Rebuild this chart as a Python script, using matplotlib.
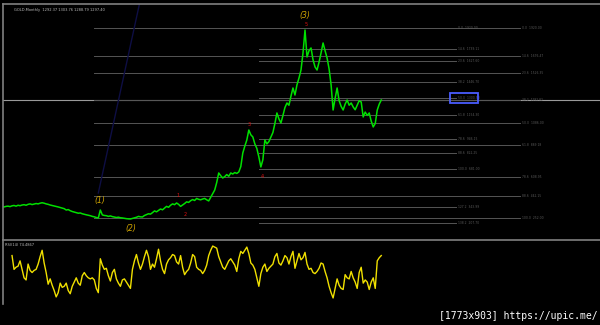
import numpy as np
import matplotlib
matplotlib.use('Agg')
import matplotlib.pyplot as plt
from matplotlib.patches import Rectangle


# monthly closes (one value per bar)
close = [
    345, 350, 352, 348, 355, 358, 352, 360, 356, 362,
    365, 360, 368, 372, 366, 370, 375, 372, 378, 382,
    378, 372, 368, 362, 358, 355, 350, 345, 340, 335,
    330, 318, 322, 312, 305, 300, 296, 290, 292, 285,
    280, 276, 272, 268, 262, 258, 252, 248, 318, 275,
    270, 268, 262, 266, 260, 256, 252, 255, 250, 248,
    245, 242, 240, 239, 244, 250, 254, 262, 258, 257,
    270, 278, 285, 282, 295, 310, 302, 315, 327, 320,
    335, 350, 342, 360, 372, 365, 380, 368, 350, 362,
    375, 390, 385, 400, 410, 402, 420, 412, 408, 415,
    420, 408, 398, 430, 460, 494, 560, 644, 620, 600,
    612, 630, 615, 644, 635, 648, 640, 653, 700, 820,
    880, 934, 1022, 980, 961, 900, 860, 785, 697, 760,
    934, 900, 920, 961, 1000, 1080, 1172, 1120, 1084, 1150,
    1220, 1260, 1240, 1320, 1392, 1330, 1420, 1480, 1550, 1700,
    1902, 1665, 1720, 1744, 1640, 1577, 1550, 1620, 1700, 1788,
    1720, 1656, 1560, 1420, 1198, 1300, 1392, 1280, 1230, 1198,
    1250, 1286, 1240, 1260, 1225, 1200, 1240, 1280, 1269, 1137,
    1180, 1150, 1172, 1100, 1049, 1080, 1198, 1250, 1286,
]

# RSI(14), starts at bar 4
rsi = [
    71, 58, 60, 61, 66, 58, 50, 48, 63, 57,
    55, 57, 58, 63, 70, 76, 64, 55, 44, 49,
    43, 38, 32, 36, 45, 41, 42, 45, 38, 35,
    42, 46, 50, 45, 43, 52, 55, 52, 50, 49,
    50, 48, 40, 36, 68, 62, 58, 59, 52, 47,
    55, 58, 49, 45, 42, 48, 49, 46, 43, 40,
    58, 66, 72, 64, 58, 63, 70, 76, 70, 58,
    63, 60, 68, 77, 66, 58, 54, 63, 67, 69,
    72, 71, 65, 63, 71, 60, 53, 56, 58, 64,
    72, 70, 60, 58, 57, 54, 57, 62, 71, 76,
    80, 79, 78, 70, 65, 60, 58, 62, 66, 68,
    65, 62, 56, 68, 75, 73, 76, 79, 73, 64,
    62, 58, 50, 42, 54, 60, 63, 56, 59, 61,
    63, 70, 73, 64, 62, 66, 71, 69, 63, 70,
    75, 59, 66, 73, 67, 69, 74, 63, 58, 59,
    55, 54, 56, 59, 64, 63, 56, 50, 42, 36,
    31, 40, 49, 43, 40, 39, 53, 50, 49, 56,
    50, 46, 40, 55, 60, 45, 48, 46, 39, 46,
    50, 40, 66, 69, 71,
]
rsi_start = 4

# fibonacci retracements
fib_levels_a = [0.0, 14.6, 23.6, 38.2, 50.0, 61.8, 78.6, 88.6, 100.0, 127.2, 138.2]
fib_a_high, fib_a_low = 1920.0, 681.0
fib_a_start, fib_a_end = 127, 225

fib_levels_b = [0.0, 14.6, 23.6, 38.2, 50.0, 61.8, 78.6, 88.6, 100.0]
fib_b_high, fib_b_low = 1920.0, 252.0
fib_b_start, fib_b_end = 45, 257

last_price = 1290.0

# faint trend line (two points), drawn from the first one upwards
trend_x = [47, 65]
trend_y = [468, 1929]

# wave counts: (text, bar, price)
waves_major = [('(1)', 48, 398), ('(2)', 63, 151), ('(3)', 150, 2034)]
waves_minor = [('1', 86.5, 450), ('2', 90.5, 283), ('3', 122, 1075),
               ('4', 128.5, 609), ('5', 150.5, 1955)]

header = 'GOLD,Monthly  1292.37 1303.76 1288.79 1297.40'
rsi_header = 'RSI(14) 74.4867'


bars = np.arange(len(close))
rsi_bars = np.arange(rsi_start, rsi_start + len(rsi))

BG = 'black'
GRID = '#808080'
FIB = '#555555'

fig = plt.figure(figsize=(6, 3.25), dpi=100, facecolor=BG)

ax = fig.add_axes([3 / 600, 86 / 325, 1.0, 235 / 325], facecolor=BG)
ax2 = fig.add_axes([3 / 600, 21 / 325, 1.0, 64 / 325], facecolor=BG)

for a in (ax, ax2):
    a.set_xticks([])
    a.set_yticks([])
    for s in ('right', 'bottom'):
        a.spines[s].set_visible(False)
    for s in ('left', 'top'):
        a.spines[s].set_color(GRID)
        a.spines[s].set_linewidth(1.2)
    a.set_xlim(-0.5, 298.5)

ymin, ymax = 63, 2131
ax.set_ylim(ymin, ymax)
ax2.set_ylim(25.3, 85.7)

# full width price line
ax.axhline(last_price, color='#9a9a9a', lw=0.8, zorder=1)

# fib set B (long one)
for lvl in fib_levels_b:
    p = fib_b_high - (fib_b_high - fib_b_low) * lvl / 100.0
    ax.plot([fib_b_start, fib_b_end], [p, p], color=FIB, lw=0.7, zorder=1)
    ax.text(fib_b_end + 1, p, '%.1f  %.2f' % (lvl, p), color='#5a5a5a',
            fontsize=2.2, ha='left', va='center')

# fib set A
for lvl in fib_levels_a:
    p = fib_a_high - (fib_a_high - fib_a_low) * lvl / 100.0
    ax.plot([fib_a_start, fib_a_end], [p, p], color=FIB, lw=0.7, zorder=1)
    ax.text(fib_a_end + 1, p, '%.1f  %.2f' % (lvl, p), color='#5a5a5a',
            fontsize=2.2, ha='left', va='center')

# highlight box round the 50% label
p50 = fib_a_high - (fib_a_high - fib_a_low) * 0.5
ax.add_patch(Rectangle((fib_a_end - 2.5, p50 - 40), 13.5, 88, fill=False,
                       edgecolor='#4a5cff', lw=1.3, zorder=3))

# trend line, only from its first point up to the top of the pane
slope = (trend_y[1] - trend_y[0]) / (trend_x[1] - trend_x[0])
x_top = trend_x[0] + (ymax - trend_y[0]) / slope
ax.plot([trend_x[0], x_top], [trend_y[0], ymax], color='#0e0e44', lw=1.0, zorder=1)

# price
ax.plot(bars, close, color='#00e000', lw=1.1, zorder=2)

for t, b, p in waves_major:
    ax.text(b, p, t, color='#d4a800', fontsize=5.5, style='italic',
            ha='center', va='center')
for t, b, p in waves_minor:
    ax.text(b, p, t, color='#e01010', fontsize=3.5, ha='center', va='center')

ax.text(0.018, 0.985, header, transform=ax.transAxes, color='#bbbbbb',
        fontsize=2.6, ha='left', va='top')

# RSI pane
ax2.plot(rsi_bars, rsi, color='#f0e000', lw=1.0)
ax2.text(0.004, 0.96, rsi_header, transform=ax2.transAxes, color='#bbbbbb',
         fontsize=2.6, ha='left', va='top')

fig.text(598 / 600, 1 - 316 / 325, '[1773x903] https://upic.me/', color='white',
         fontsize=7, family='DejaVu Sans Mono', ha='right', va='center')

fig.savefig('out.png', dpi=100, facecolor=BG)
